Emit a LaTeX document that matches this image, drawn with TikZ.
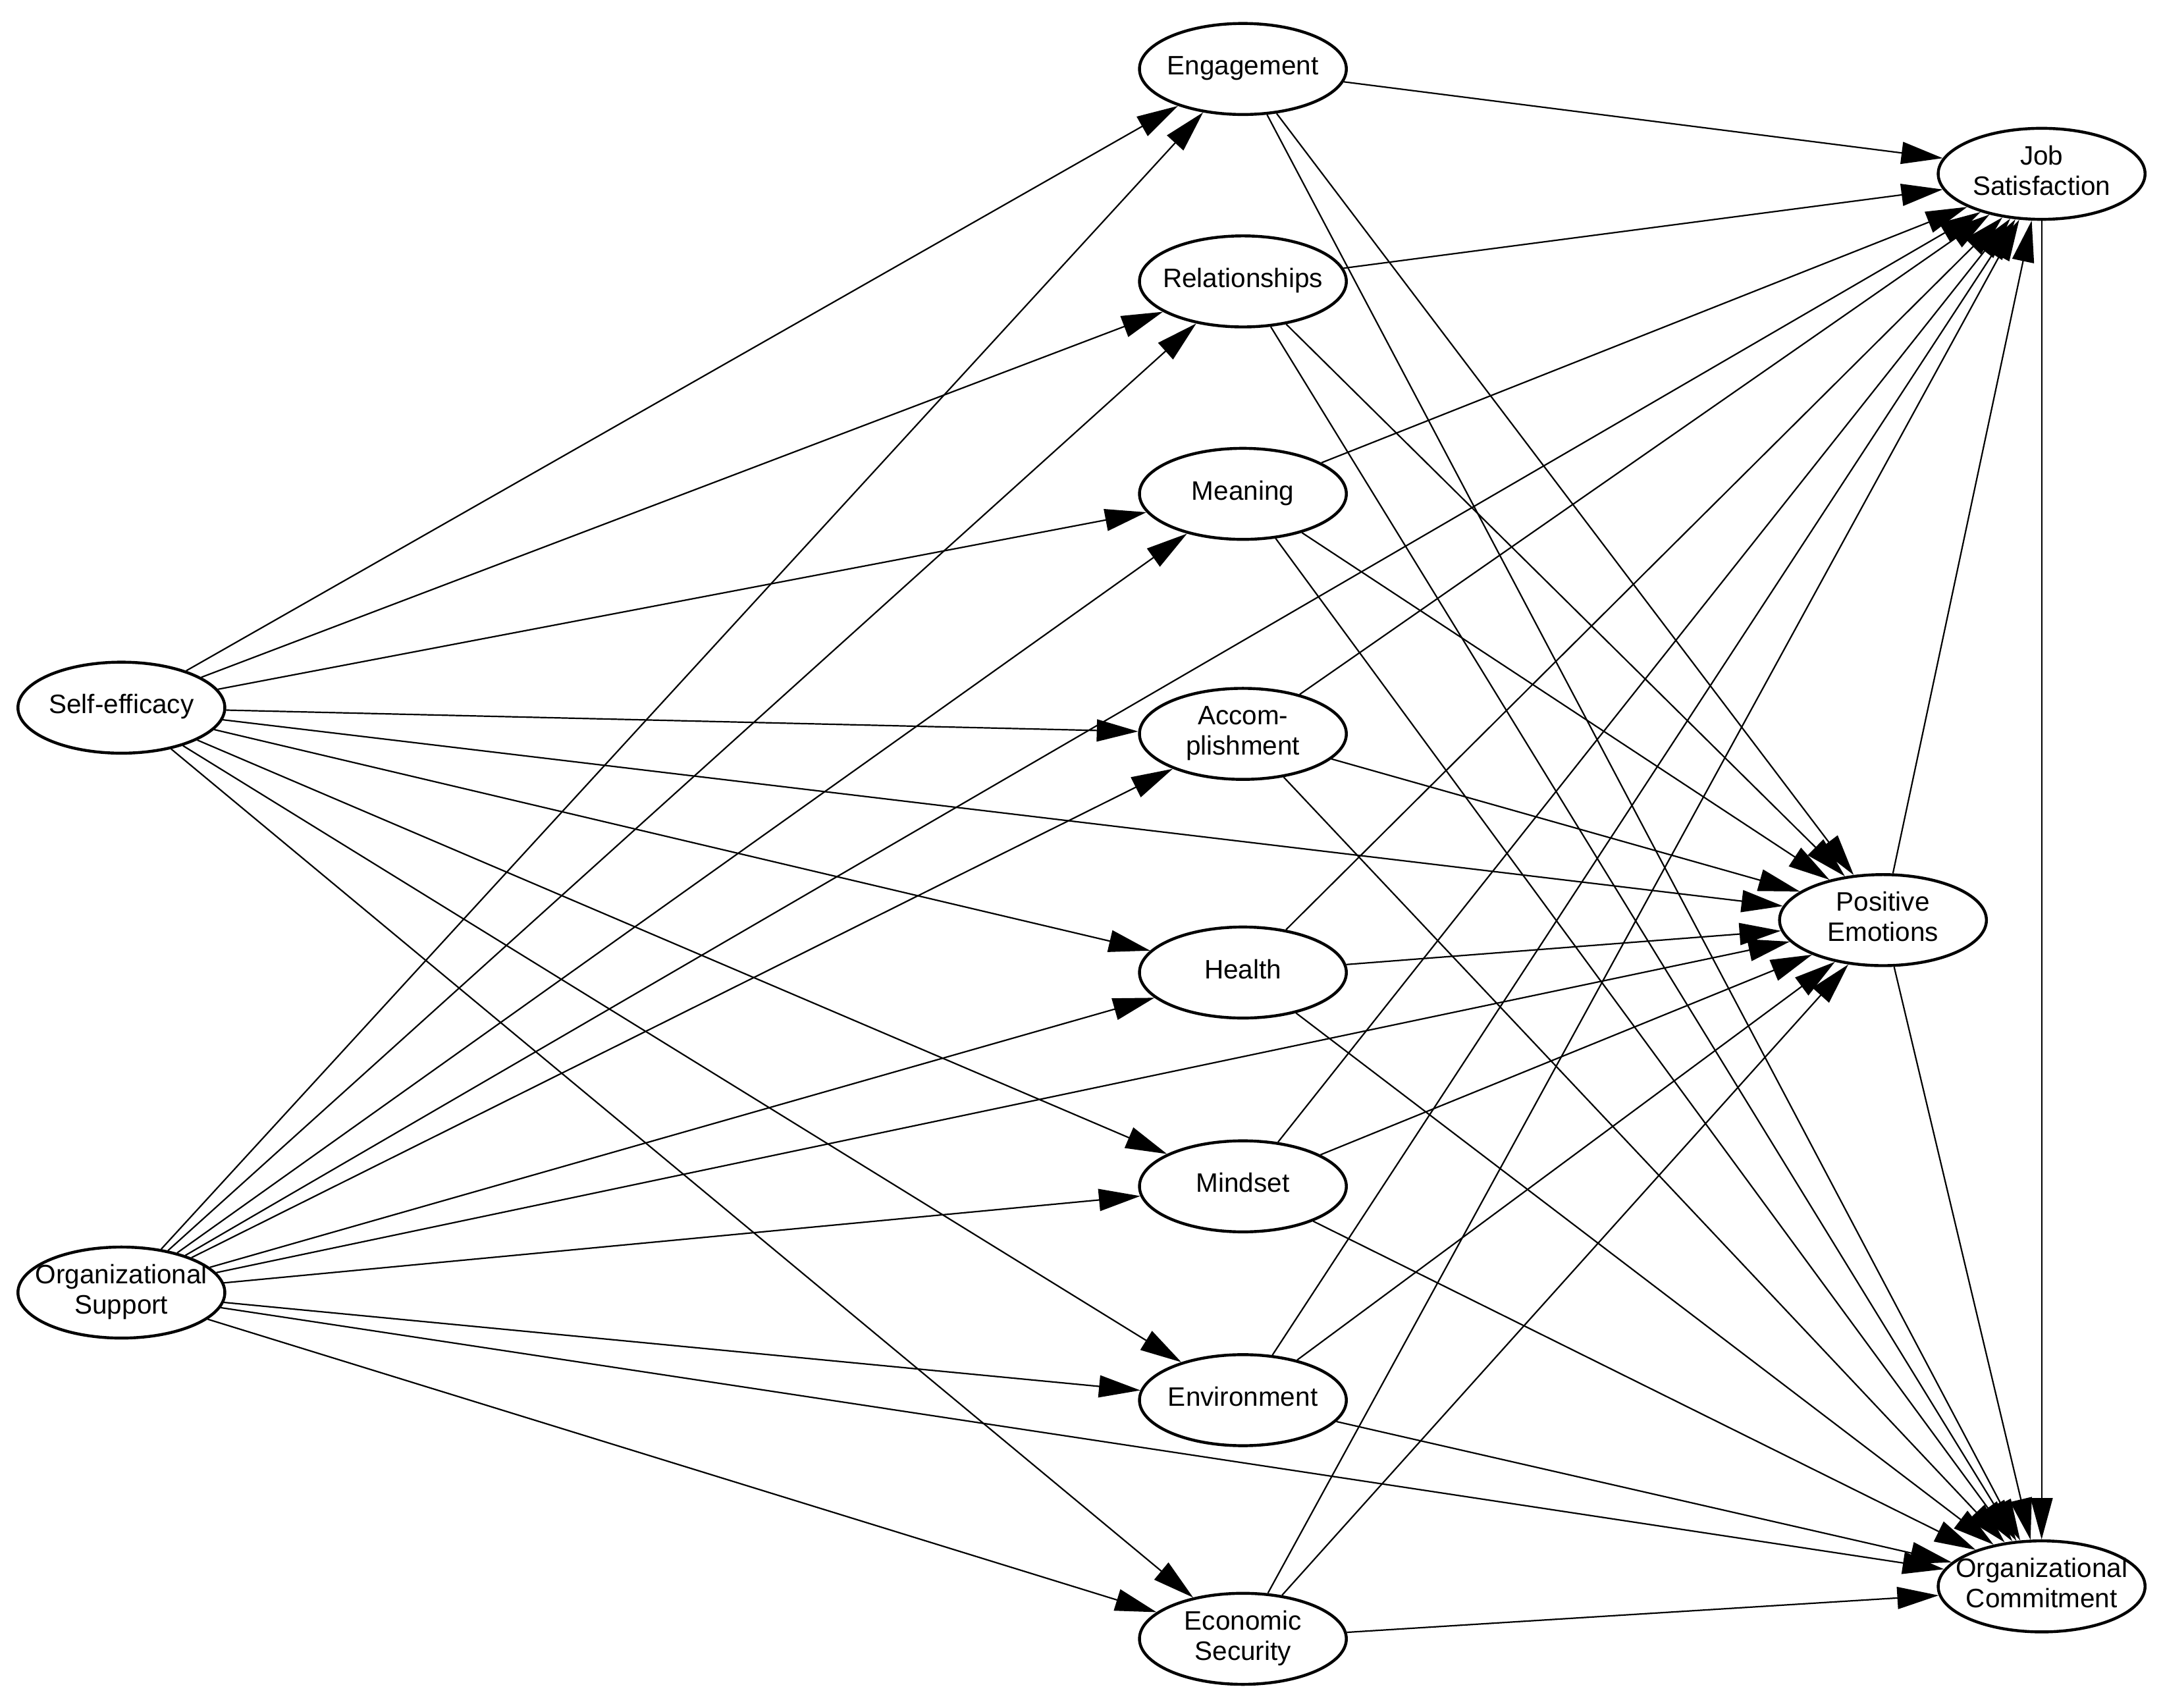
\documentclass[tikz,border=0pt]{standalone}
\usepackage{fontspec}
\setmainfont{Liberation Sans}
\usetikzlibrary{arrows.meta,shapes.geometric,calc}
\newcommand{\lvtxt}[1]{\makebox[0pt]{\begin{tabular}{@{}c@{}}#1\end{tabular}}}
\begin{document}
\begin{tikzpicture}[x={(0.02cm,0)},y={(0,-0.02cm)},
  lv/.style={ellipse,draw,line width=1.2pt,minimum width=3cm,minimum height=1.32cm,inner sep=0pt,font=\fontsize{11}{12.5}\selectfont,fill=white},
  pth/.style={-{Triangle[length=6mm,width=3.2mm]},line width=0.6pt}]
\useasboundingbox (0,0) rectangle (1568,1238);
\node[lv] (se) at (88,513) {\lvtxt{Self-efficacy}};
\node[lv] (os) at (88,937) {\lvtxt{Organizational\\Support}};
\node[lv] (m1) at (901,50) {\lvtxt{Engagement}};
\node[lv] (m2) at (901,204) {\lvtxt{Relationships}};
\node[lv] (m3) at (901,358) {\lvtxt{Meaning}};
\node[lv] (m4) at (901,532) {\lvtxt{Accom-\\plishment}};
\node[lv] (m5) at (901,705) {\lvtxt{Health}};
\node[lv] (m6) at (901,860) {\lvtxt{Mindset}};
\node[lv] (m7) at (901,1015) {\lvtxt{Environment}};
\node[lv] (m8) at (901,1188) {\lvtxt{Economic\\Security}};
\node[lv] (js) at (1480,126) {\lvtxt{Job\\Satisfaction}};
\node[lv] (pe) at (1365,667) {\lvtxt{Positive\\Emotions}};
\node[lv] (oc) at (1480,1150) {\lvtxt{Organizational\\Commitment}};
\coordinate (jsin) at ($(js.west)+(25,0)$);
\coordinate (pein) at ($(pe.west)+(25,0)$);
\coordinate (ocin) at ($(oc.west)+(25,0)$);
\foreach \m in {m1,m2,m3,m4,m5,m6,m7,m8}{
  \draw[pth] (se) -- (\m);
  \draw[pth] (os) -- (\m);
  \draw[pth] let \p1=($(\m)-(jsin)$), \n1={atan2(\y1,\x1)} in (\m) -- (js.\n1);
  \draw[pth] let \p1=($(\m)-(pein)$), \n1={atan2(\y1,\x1)} in (\m) -- (pe.\n1);
  \draw[pth] let \p1=($(\m)-(ocin)$), \n1={atan2(\y1,\x1)} in (\m) -- (oc.\n1);
}
\draw[pth] let \p1=($(se)-(pein)$), \n1={atan2(\y1,\x1)} in (se) -- (pe.\n1);
\draw[pth] let \p1=($(os)-(jsin)$), \n1={atan2(\y1,\x1)} in (os) -- (js.\n1);
\draw[pth] let \p1=($(os)-(pein)$), \n1={atan2(\y1,\x1)} in (os) -- (pe.\n1);
\draw[pth] let \p1=($(os)-(ocin)$), \n1={atan2(\y1,\x1)} in (os) -- (oc.\n1);
\draw[pth] (pe) -- (js);
\draw[pth] (pe) -- (oc);
\draw[pth] (js) -- (oc);
\end{tikzpicture}
\end{document}
